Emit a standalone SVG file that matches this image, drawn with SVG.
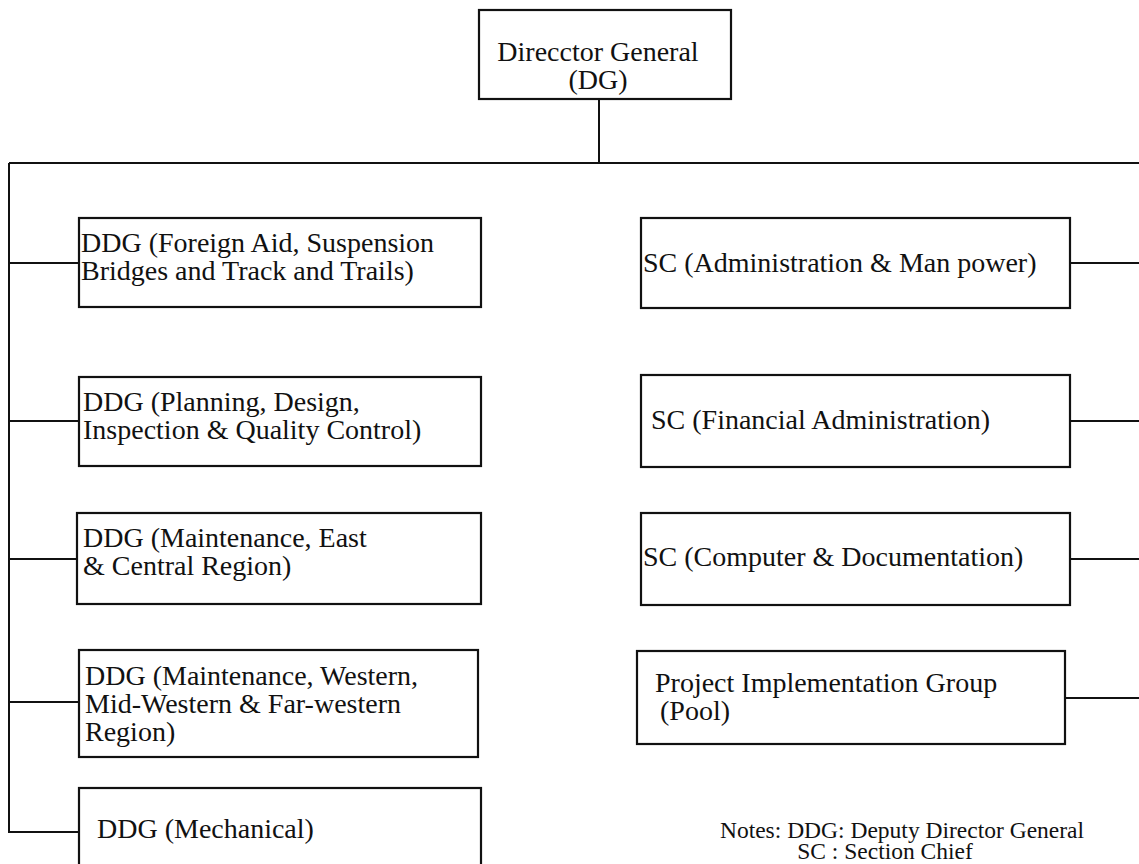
<svg xmlns="http://www.w3.org/2000/svg" width="1139" height="864" viewBox="0 0 1139 864">
<style>
.box{fill:#fff;stroke:#111;stroke-width:2.2}
.ln{fill:none;stroke:#111;stroke-width:2}
text{font-family:"Liberation Serif","Times New Roman",serif;font-size:28px;fill:#111}
.note{font-size:23.5px}
</style>
<rect width="1139" height="864" fill="#fff"/>
<g id="connectors">
<path class="ln" d="M599,99 V163 M9,163 H1139 M9,163 V832 H79"/>
<path class="ln" d="M9,263 H79 M9,421 H79 M9,559 H77 M9,702 H79"/>
<path class="ln" d="M1070,263 H1139 M1070,421 H1139 M1070,559 H1139 M1065,698 H1139"/>
</g>
<g id="dg">
<rect class="box" x="479" y="10" width="252" height="89"/>
<text x="598" y="61" text-anchor="middle">Direcctor General</text>
<text x="598" y="89" text-anchor="middle">(DG)</text>
</g>
<g id="ddg-foreign">
<rect class="box" x="79" y="218" width="402" height="89"/>
<text x="81" y="252">DDG (Foreign Aid, Suspension</text>
<text x="81" y="280">Bridges and Track and Trails)</text>
</g>
<g id="ddg-planning">
<rect class="box" x="79" y="377" width="402" height="89"/>
<text x="83" y="411">DDG (Planning, Design,</text>
<text x="83" y="439">Inspection &amp; Quality Control)</text>
</g>
<g id="ddg-east">
<rect class="box" x="77" y="513" width="404" height="91"/>
<text x="83" y="547">DDG (Maintenance, East</text>
<text x="83" y="575">&amp; Central Region)</text>
</g>
<g id="ddg-western">
<rect class="box" x="79" y="650" width="399" height="107"/>
<text x="85" y="685">DDG (Maintenance, Western,</text>
<text x="85" y="713">Mid-Western &amp; Far-western</text>
<text x="85" y="741">Region)</text>
</g>
<g id="ddg-mechanical">
<rect class="box" x="79" y="788" width="402" height="90"/>
<text x="97" y="838">DDG (Mechanical)</text>
</g>
<g id="sc-admin">
<rect class="box" x="641" y="218" width="429" height="90"/>
<text x="643" y="272">SC (Administration &amp; Man power)</text>
</g>
<g id="sc-financial">
<rect class="box" x="641" y="375" width="429" height="92"/>
<text x="651" y="429">SC (Financial Administration)</text>
</g>
<g id="sc-computer">
<rect class="box" x="641" y="513" width="429" height="92"/>
<text x="643" y="566">SC (Computer &amp; Documentation)</text>
</g>
<g id="pig">
<rect class="box" x="637" y="651" width="428" height="93"/>
<text x="655" y="692">Project Implementation Group</text>
<text x="660" y="720">(Pool)</text>
</g>
<g id="notes">
<text class="note" text-anchor="middle"><tspan x="902" y="838">Notes: DDG: Deputy Director General</tspan><tspan x="885" y="859">SC : Section Chief</tspan></text>
</g>
</svg>
